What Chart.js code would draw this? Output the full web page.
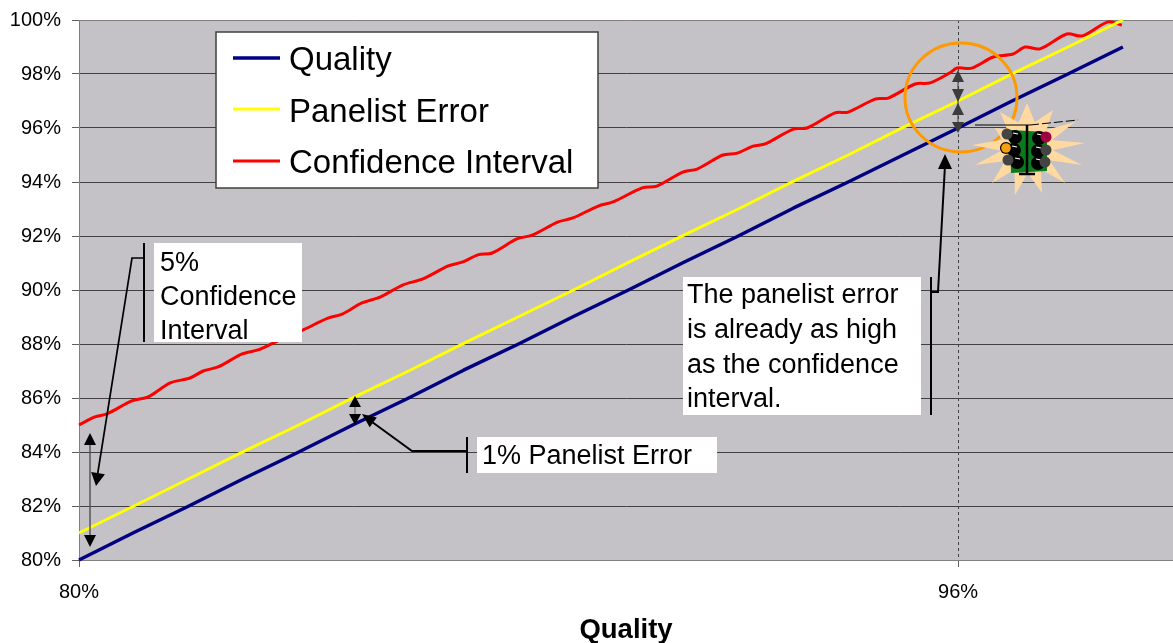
<!DOCTYPE html>
<html>
<head>
<meta charset="utf-8">
<style>
  html, body { margin: 0; padding: 0; background: #fff; overflow: hidden; }
</style>
<script src="https://cdn.jsdelivr.net/npm/chart.js@4"></script>
</head>
<body>
<canvas id="qualityChart" width="1173" height="643"></canvas>
<script>
const xTicks = [80, 96];

const qualityX = [80, 81, 82, 83, 84, 85, 86, 87, 88, 89, 90, 91, 92, 93, 94, 95, 96, 97, 98, 99];
const qualityY = [80, 81.02, 82, 83.02, 84, 85.02, 86, 87.03, 88, 89.02, 90, 91.02, 92, 93.03, 94, 95, 96, 97.02, 98, 99];
const panelistY = [81, 82, 83.01, 84.02, 85, 86.02, 87, 88.02, 89.01, 90, 91.02, 92.02, 93, 94.02, 95, 96.02, 97, 98.02, 99, 100];

const confidenceX = [80, 80.29, 80.51, 80.96, 81.26, 81.66, 82.02, 82.26, 82.53, 82.97, 83.26, 83.57, 84.08, 84.53, 84.79,
    85.15, 85.48, 85.9, 86.26, 86.72, 86.99, 87.26, 87.52, 87.97, 88.26, 88.72, 88.99, 89.45, 89.72, 90.25, 90.52, 90.99,
    91.25, 91.72, 91.98, 92.27, 92.49, 93, 93.25, 93.76, 94, 94.49, 94.73, 95.22, 95.49, 95.85, 95.98, 96.25, 96.64, 97,
    97.22, 97.49, 97.98, 98.26, 98.73, 98.98];
const confidenceY = [85, 85.3, 85.41, 85.89, 86.04, 86.56, 86.74, 87, 87.15, 87.63, 87.78, 88.07, 88.52, 88.96, 89.11,
    89.52, 89.74, 90.19, 90.41, 90.89, 91.04, 91.3, 91.37, 91.89, 92.04, 92.52, 92.67, 93.11, 93.26, 93.78, 93.85, 94.37,
    94.48, 95, 95.07, 95.33, 95.41, 95.96, 96, 96.56, 96.59, 97.07, 97.11, 97.63, 97.67, 98.04, 98.22, 98.22, 98.63, 98.74,
    99, 98.93, 99.48, 99.41, 99.93, 99.81];

const toPoints = (xs, ys) => xs.map((x, i) => ({ x: x, y: ys[i] }));

function line(ctx, pts, color, width) {
    ctx.strokeStyle = color;
    ctx.lineWidth = width;
    ctx.beginPath();
    pts.forEach((p, i) => i ? ctx.lineTo(p[0], p[1]) : ctx.moveTo(p[0], p[1]));
    ctx.stroke();
}

function tri(ctx, a, b, c, color) {
    ctx.fillStyle = color;
    ctx.beginPath();
    ctx.moveTo(a[0], a[1]);
    ctx.lineTo(b[0], b[1]);
    ctx.lineTo(c[0], c[1]);
    ctx.closePath();
    ctx.fill();
}

// arrow head with its tip at (x, y), pointing from (fx, fy)
function head(ctx, fx, fy, x, y, len, half, color) {
    const d = Math.hypot(x - fx, y - fy);
    const ux = (x - fx) / d, uy = (y - fy) / d;
    const bx = x - ux * len, by = y - uy * len;
    tri(ctx, [x, y], [bx - uy * half, by + ux * half], [bx + uy * half, by - ux * half], color);
}

function textBox(ctx, left, top, right, bottom, lines, textX, font) {
    ctx.fillStyle = '#fff';
    ctx.fillRect(left, top, right - left, bottom - top);
    ctx.fillStyle = '#000';
    ctx.font = font;
    ctx.textAlign = 'left';
    ctx.textBaseline = 'alphabetic';
    lines.forEach(l => ctx.fillText(l[0], textX, l[1]));
}

function circle(ctx, x, y, r, color) {
    ctx.fillStyle = color;
    ctx.beginPath();
    ctx.arc(x, y, r, 0, Math.PI * 2);
    ctx.fill();
}

function trafficLight(ctx) {
    const cx = 1027, cy = 147;
    const tips = [[1027, 103], [1053, 110], [1075, 122], [1085, 143], [1082, 165], [1065, 183], [1042, 193],
        [1015, 195], [992, 183], [975, 165], [972, 145], [995, 128], [1000, 112]];
    ctx.fillStyle = '#ffd9a0';
    ctx.beginPath();
    tips.forEach((t, i) => {
        const n = tips[(i + 1) % tips.length];
        let a1 = Math.atan2(t[1] - cy, t[0] - cx);
        let a2 = Math.atan2(n[1] - cy, n[0] - cx);
        if (a2 < a1) a2 += Math.PI * 2;
        const m = (a1 + a2) / 2;
        ctx.lineTo(t[0], t[1]);
        ctx.lineTo(cx + Math.cos(m) * 26, cy + Math.sin(m) * 26);
    });
    ctx.closePath();
    ctx.fill();

    ctx.fillStyle = '#0b7a1e';
    ctx.beginPath();
    ctx.moveTo(1010, 130); ctx.lineTo(1047, 132); ctx.lineTo(1047, 171); ctx.lineTo(1011, 173);
    ctx.closePath();
    ctx.fill();
    line(ctx, [[1027, 125], [1027, 174]], '#000', 2.5);
    line(ctx, [[1019, 174], [1035, 174]], '#000', 2.5);

    [[1015, 137], [1014, 150], [1017, 162], [1039, 138], [1038, 151], [1038, 163]].forEach(p => {
        circle(ctx, p[0], p[1], 7, '#000');
        line(ctx, [[p[0] - 2, p[1] - 4], [p[0] + 3, p[1] - 3]], '#fff', 1.2);
    });
    circle(ctx, 1007, 134, 5.5, '#444');
    circle(ctx, 1006, 148, 6, '#000');
    circle(ctx, 1006, 148, 4.8, '#f5a010');
    circle(ctx, 1008, 160, 5.5, '#444');
    circle(ctx, 1046, 137, 5.5, '#a00040');
    circle(ctx, 1046, 150, 5.5, '#444');
    circle(ctx, 1045, 162, 5.5, '#444');

    line(ctx, [[975, 125], [1030, 125]], '#000', 1);
    ctx.setLineDash([9, 3]);
    line(ctx, [[1030, 125], [1078, 120]], '#000', 1);
    ctx.setLineDash([]);
}

const plotBackground = {
    id: 'plotBackground',
    beforeDraw(chart) {
        const a = chart.chartArea;
        chart.ctx.fillStyle = '#c4c2c6';
        chart.ctx.fillRect(a.left, a.top, a.right - a.left, a.bottom - a.top);
    }
};

const callouts = {
    id: 'callouts',
    afterDatasetsDraw(chart) {
        const ctx = chart.ctx;
        const bodyFont = '27px "Liberation Sans", Arial, sans-serif';
        ctx.save();
        ctx.lineJoin = 'miter';

        // legend box
        ctx.fillStyle = '#fff';
        ctx.fillRect(216, 32, 382, 156);
        ctx.strokeStyle = '#404040';
        ctx.lineWidth = 1.5;
        ctx.strokeRect(216, 32, 382, 156);
        const legendY = [58, 109, 161];
        const legendBase = [70, 122, 173];
        ctx.font = '33px "Liberation Sans", Arial, sans-serif';
        ctx.textAlign = 'left';
        ctx.textBaseline = 'alphabetic';
        chart.data.datasets.forEach((ds, i) => {
            line(ctx, [[233, legendY[i]], [280, legendY[i]]], ds.borderColor, ds.borderWidth);
            ctx.fillStyle = '#000';
            ctx.fillText(ds.label, 289, legendBase[i]);
        });

        // 5% confidence interval
        textBox(ctx, 154, 243, 302, 342, [['5%', 271], ['Confidence', 305], ['Interval', 339]], 160, bodyFont);
        line(ctx, [[144, 243], [144, 342]], '#000', 2);
        line(ctx, [[144, 258], [132, 258], [97, 478]], '#000', 1.7);
        head(ctx, 132, 258, 96, 486, 13, 7, '#000');
        line(ctx, [[90, 440], [90, 540]], '#555', 1.5);
        head(ctx, 90, 450, 90, 433, 12, 6, '#000');
        head(ctx, 90, 530, 90, 547, 12, 6, '#000');

        // 1% panelist error
        textBox(ctx, 477, 437, 717, 473, [['1% Panelist Error', 464]], 482, bodyFont);
        line(ctx, [[467, 437], [467, 473]], '#000', 2);
        line(ctx, [[467, 451], [412, 451], [368, 419]], '#000', 2);
        head(ctx, 412, 451, 362, 414, 14, 6, '#000');
        line(ctx, [[355, 400], [355, 422]], '#555', 1);
        head(ctx, 355, 410, 355, 396, 11, 6, '#000');
        head(ctx, 355, 412, 355, 425, 11, 6, '#000');

        // panelist error already as high
        textBox(ctx, 683, 277, 921, 415,
            [['The panelist error', 303], ['is already as high', 338], ['as the confidence', 373], ['interval.', 407]],
            687, bodyFont);
        line(ctx, [[931, 277], [931, 415]], '#000', 2);
        line(ctx, [[931, 292], [938, 292], [945, 165]], '#000', 2);
        head(ctx, 945, 170, 945, 154, 15, 7, '#000');

        // orange circle and grey arrows at 96%
        ctx.strokeStyle = '#ff9900';
        ctx.lineWidth = 3;
        ctx.beginPath();
        ctx.ellipse(961, 97.5, 56, 54.5, 0, 0, Math.PI * 2);
        ctx.stroke();
        line(ctx, [[958, 78], [958, 126]], '#3c3c3c', 1);
        head(ctx, 958, 82, 958, 70, 12, 6, '#3c3c3c');
        head(ctx, 958, 89, 958, 102, 13, 6, '#3c3c3c');
        head(ctx, 958, 115, 958, 103, 12, 6, '#3c3c3c');
        head(ctx, 958, 122, 958, 133, 11, 6, '#3c3c3c');

        trafficLight(ctx);
        ctx.restore();
    }
};

new Chart(document.getElementById('qualityChart'), {
    type: 'scatter',
    data: {
        datasets: [
            { label: 'Quality', data: toPoints(qualityX, qualityY), borderColor: '#000080', borderWidth: 3.5 },
            { label: 'Panelist Error', data: toPoints(qualityX, panelistY), borderColor: '#ffff00', borderWidth: 3 },
            { label: 'Confidence Interval', data: toPoints(confidenceX, confidenceY), borderColor: '#ff0000', borderWidth: 3, tension: 0.3 }
        ]
    },
    plugins: [plotBackground, callouts],
    options: {
        responsive: false,
        animation: false,
        showLine: true,
        clip: false,
        layout: { padding: { top: 20, left: 0, right: 0, bottom: 0 } },
        elements: {
            point: { radius: 0 },
            line: { tension: 0, fill: false, borderJoinStyle: 'round' }
        },
        plugins: { legend: { display: false }, tooltip: { enabled: false } },
        scales: {
            x: {
                type: 'linear',
                min: 80,
                max: 99.912,
                afterBuildTicks: scale => { scale.ticks = xTicks.map(v => ({ value: v })); },
                afterFit: scale => { scale.height = 83; scale.paddingLeft = 0; scale.paddingRight = 0; },
                grid: { color: '#404040', lineWidth: 1, tickColor: '#606060', tickLength: 7, tickBorderDash: [] },
                border: { color: '#808080', width: 1, dash: [3, 3] },
                ticks: {
                    callback: v => v + '%',
                    color: '#000',
                    padding: 13,
                    maxRotation: 0,
                    autoSkip: false,
                    font: { family: '"Liberation Sans"', size: 20 }
                },
                title: {
                    display: true,
                    text: 'Quality',
                    color: '#000',
                    padding: { top: 0, bottom: -1 },
                    font: { family: '"Liberation Sans"', size: 27.5, weight: 'bold', lineHeight: 1 }
                }
            },
            y: {
                min: 80,
                max: 100,
                afterFit: scale => { scale.width = 79; scale.paddingTop = 0; scale.paddingBottom = 0; },
                grid: {
                    color: ctx => (ctx.tick.value === 80 || ctx.tick.value === 100) ? '#808080' : '#404040',
                    tickColor: '#606060',
                    tickLength: 7,
                    lineWidth: 1
                },
                border: { color: '#808080', width: 1 },
                ticks: {
                    stepSize: 2,
                    callback: v => v + '%',
                    color: '#000',
                    padding: 11,
                    font: { family: '"Liberation Sans"', size: 20 }
                }
            }
        }
    }
});
</script>
</body>
</html>
